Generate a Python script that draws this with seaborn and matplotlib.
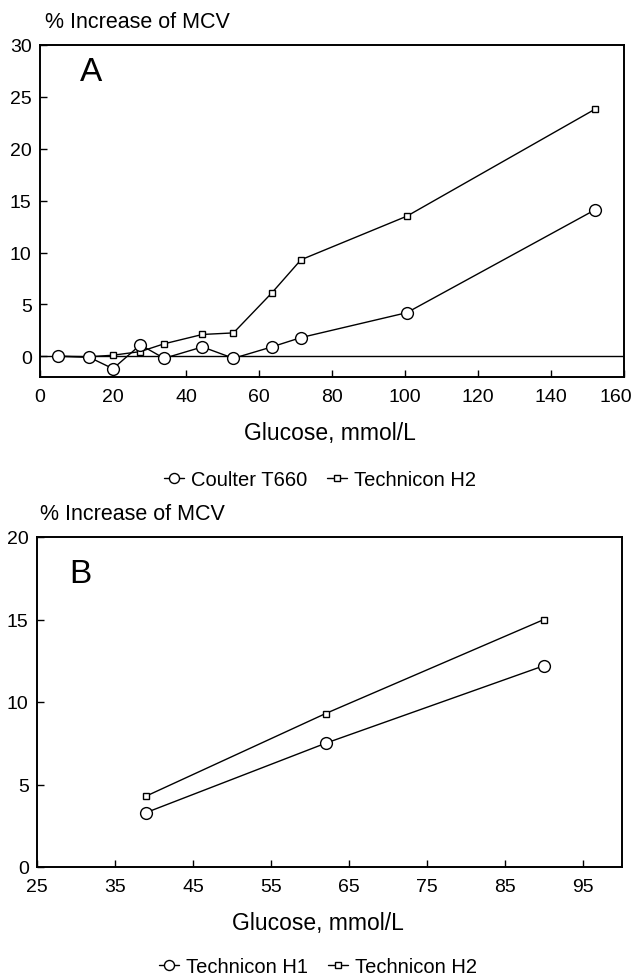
import matplotlib
matplotlib.use("Agg")
import matplotlib.pyplot as plt
import matplotlib.transforms as mtransforms
import seaborn as sns
import pandas as pd

# ---- data ----
glucose_a = [5, 13.5, 20, 27.5, 34, 44.5, 53, 63.5, 71.5, 100.5, 152]
coulter_t660 = [0, -0.1, -1.2, 1.1, -0.2, 0.9, -0.2, 0.9, 1.8, 4.2, 14.1]
technicon_h2_a = [0, -0.05, 0.1, 0.45, 1.2, 2.1, 2.25, 6.1, 9.3, 13.5, 23.8]

glucose_b = [39, 62, 90]
technicon_h1_b = [3.3, 7.5, 12.2]
technicon_h2_b = [4.3, 9.3, 15.0]

a_xticks = [0, 20, 40, 60, 80, 100, 120, 140, 160]
a_yticks = [0, 5, 10, 15, 20, 25, 30]
b_xticks = [25, 35, 45, 55, 65, 75, 85, 95]
b_yticks = [0, 5, 10, 15, 20]

sns.set_theme(style="ticks")
plt.rcParams["font.family"] = ["Liberation Sans", "DejaVu Sans"]
plt.rcParams["text.color"] = "black"
plt.rcParams["axes.labelcolor"] = "black"
plt.rcParams["xtick.color"] = "black"
plt.rcParams["ytick.color"] = "black"

fig = plt.figure(figsize=(6.33, 9.78), dpi=100)
W, H = 633.0, 978.0

def axes_px(l, r, t, b):
    return fig.add_axes([l / W, 1 - b / H, (r - l) / W, (b - t) / H])

axA = axes_px(40, 624, 46, 378)
axB = axes_px(37, 622, 538, 868)

circ_kw = dict(color="black", marker="o", markersize=8.5, markerfacecolor="white",
               markeredgecolor="black", markeredgewidth=1.0, linewidth=1.0)
sq_kw = dict(color="black", marker="s", markersize=5, markerfacecolor="white",
             markeredgecolor="black", markeredgewidth=1.0, linewidth=1.0)

dfA = pd.DataFrame({"g": glucose_a, "c": coulter_t660, "h": technicon_h2_a})
dfB = pd.DataFrame({"g": glucose_b, "h1": technicon_h1_b, "h2": technicon_h2_b})

axA.axhline(0, color="black", linewidth=1.0, zorder=1)
sns.lineplot(data=dfA, x="g", y="h", ax=axA, label="Technicon H2", zorder=3, **sq_kw)
sns.lineplot(data=dfA, x="g", y="c", ax=axA, label="Coulter T660", zorder=4, **circ_kw)

sns.lineplot(data=dfB, x="g", y="h2", ax=axB, label="Technicon H2", zorder=3, **sq_kw)
sns.lineplot(data=dfB, x="g", y="h1", ax=axB, label="Technicon H1", zorder=4, **circ_kw)

axA.set_xlim(0, 160)
axA.set_ylim(-2, 30)
axA.set_xticks(a_xticks)
axA.set_yticks(a_yticks)
axB.set_xlim(25, 100)
axB.set_ylim(0, 20)
axB.set_xticks(b_xticks)
axB.set_yticks(b_yticks)

for ax in (axA, axB):
    for s in ax.spines.values():
        s.set_visible(True)
        s.set_linewidth(1.4)
        s.set_color("black")
    ax.tick_params(direction="in", length=5, width=1.0, colors="black",
                   labelsize=14, pad=6)
    ax.tick_params(axis="x", pad=8)
    ax.set_ylabel("")
    ax.set_xlabel("Glucose, mmol/L", fontsize=16.5, color="black")

# keep the last tick label of panel A inside the figure
fig.canvas.draw()
last = axA.get_xticklabels()[-1]
last.set_transform(last.get_transform() +
                   mtransforms.ScaledTranslation(-8 / 100, 0, fig.dpi_scale_trans))

axA.xaxis.set_label_coords((330 - 40) / 584, (378 - 422) / 332)
axB.xaxis.set_label_coords((318 - 37) / 585, (868 - 912) / 330)

axA.text(14, 27.4, "A", fontsize=24, ha="center", va="center", color="black")
axB.text(30.5, 17.8, "B", fontsize=24, ha="center", va="center", color="black")

fig.text(45 / W, 1 - 28 / H, "% Increase of MCV", fontsize=15.5, va="baseline", ha="left")
fig.text(40 / W, 1 - 520 / H, "% Increase of MCV", fontsize=15.5, va="baseline", ha="left")

def leg(ax, order, x, y):
    h, l = ax.get_legend_handles_labels()
    d = dict(zip(l, h))
    ax.legend([d[k] for k in order], order, loc="center", bbox_to_anchor=(x, y),
              ncol=2, frameon=False, fontsize=14.5, handlelength=1.0,
              handletextpad=0.35, columnspacing=1.0, markerscale=0.85)

leg(axA, ["Coulter T660", "Technicon H2"], (320 - 40) / 584, (378 - 481) / 332)
leg(axB, ["Technicon H1", "Technicon H2"], (318 - 37) / 585, (868 - 968) / 330)

fig.savefig("out.png", dpi=100, facecolor="white")
